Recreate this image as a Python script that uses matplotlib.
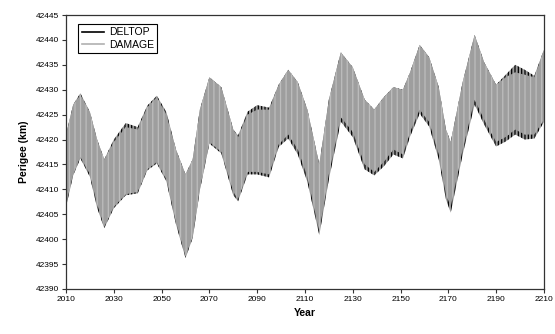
import numpy as np
import matplotlib.pyplot as plt
from matplotlib.lines import Line2D

plt.rcParams['font.family'] = ['Liberation Sans', 'DejaVu Sans']
plt.rcParams['hatch.linewidth'] = 0.9

# envelope of the (dense, yearly oscillating) perigee curves
years = [2010, 2013, 2016, 2020, 2023, 2026, 2030, 2035, 2040, 2044,
         2048, 2052, 2056, 2060, 2063, 2066, 2070, 2075, 2080, 2082,
         2086, 2090, 2095, 2099, 2103, 2107, 2111, 2116, 2120, 2125,
         2130, 2135, 2139, 2143, 2147, 2151, 2154, 2158, 2162, 2166,
         2169, 2171, 2176, 2181, 2185, 2190, 2194, 2198, 2202, 2206, 2210]

damage_hi = [42421, 42427, 42429, 42425.5, 42420, 42416, 42419.5, 42422.5, 42422, 42426.5,
             42428.5, 42425, 42418, 42413, 42416, 42426, 42432.5, 42430.5, 42422, 42420.5,
             42425, 42426, 42426, 42431, 42434, 42431.5, 42426, 42415, 42428, 42437.5,
             42434.5, 42428, 42426, 42428.5, 42430.5, 42430, 42433.5, 42439, 42436.5, 42430.5,
             42422, 42419.5, 42431.5, 42441, 42435.5, 42431, 42432.5, 42433.5, 42433, 42432.5, 42438]
damage_lo = [42407, 42413, 42416.5, 42413, 42407, 42402.5, 42406.5, 42409, 42409.5, 42414,
             42415.5, 42412, 42403.5, 42396.5, 42400.5, 42410, 42419.5, 42417.5, 42409.5, 42408,
             42413.5, 42413.5, 42413, 42419, 42421, 42418, 42412.5, 42401.5, 42413, 42424.5,
             42421.5, 42415, 42413.5, 42415.5, 42418, 42417, 42421.5, 42426, 42423.5, 42417,
             42409, 42406.5, 42418, 42428, 42424, 42419.5, 42420.5, 42422, 42421, 42421, 42424]

deltop_hi = [42421, 42427, 42429.3, 42425.5, 42420, 42416, 42420, 42423.3, 42422.5, 42426.8,
             42428.8, 42425.5, 42418, 42413, 42416, 42426, 42432.5, 42430.5, 42422, 42420.8,
             42425.6, 42426.9, 42426.4, 42431, 42434, 42431.5, 42426, 42415, 42428, 42437.5,
             42434.5, 42428, 42426, 42428.5, 42430.5, 42430, 42433.5, 42439, 42436.5, 42430.5,
             42422, 42419.5, 42431.5, 42441, 42435.5, 42431, 42433, 42435, 42434, 42432.8, 42438]
deltop_lo = [42406.5, 42412.8, 42416.2, 42412.5, 42406.3, 42402.2, 42406.2, 42408.8, 42409.2, 42413.8,
             42415.2, 42411.6, 42403, 42396.2, 42400.2, 42409.8, 42419.2, 42417.2, 42408.8, 42407.6,
             42413, 42413, 42412.4, 42418.5, 42420.2, 42417, 42411.5, 42400.8, 42412, 42423.6,
             42420.5, 42414, 42412.8, 42414.6, 42417, 42416.2, 42420.6, 42425.2, 42422.6, 42416,
             42408, 42405.3, 42417, 42427, 42423, 42418.6, 42419.6, 42421, 42420, 42420.2, 42423.5]

fig = plt.figure(figsize=(5.55, 3.34), dpi=100)
ax = fig.add_axes([0.119, 0.135, 0.861, 0.82])

# DELTOP below (shows as dark spikes where it sticks out), DAMAGE on top
ax.fill_between(years, deltop_lo, deltop_hi, facecolor='#9a9a9a', edgecolor='black',
                hatch='|||||', lw=0)
ax.fill_between(years, damage_lo, damage_hi, facecolor='#9e9e9e', edgecolor='#bdbdbd',
                hatch='|||', lw=0)

ax.set_xlim(2010, 2210)
ax.set_ylim(42390, 42445)
ax.set_xticks(np.arange(2010, 2211, 20))
ax.set_yticks(np.arange(42390, 42446, 5))
ax.tick_params(labelsize=6, length=3, width=0.8, color='#333333', pad=2)
for s in ax.spines.values():
    s.set_linewidth(0.9)
    s.set_color('#333333')

ax.set_xlabel('Year', fontsize=7.5, fontweight='bold', labelpad=4)
ax.set_ylabel('Perigee (km)', fontsize=7.5, fontweight='bold', labelpad=5)

handles = [Line2D([], [], color='black', lw=1.2),
           Line2D([], [], color='#b0b0b0', lw=1.2)]
leg = ax.legend(handles, ['DELTOP', 'DAMAGE'], loc='upper left', fontsize=7.5,
                fancybox=False, framealpha=1, edgecolor='black', handlelength=2.2,
                handletextpad=0.4, borderpad=0.3, labelspacing=0.2,
                bbox_to_anchor=(0.015, 0.985))
leg.get_frame().set_linewidth(0.8)

fig.savefig('out.png', dpi=100)
